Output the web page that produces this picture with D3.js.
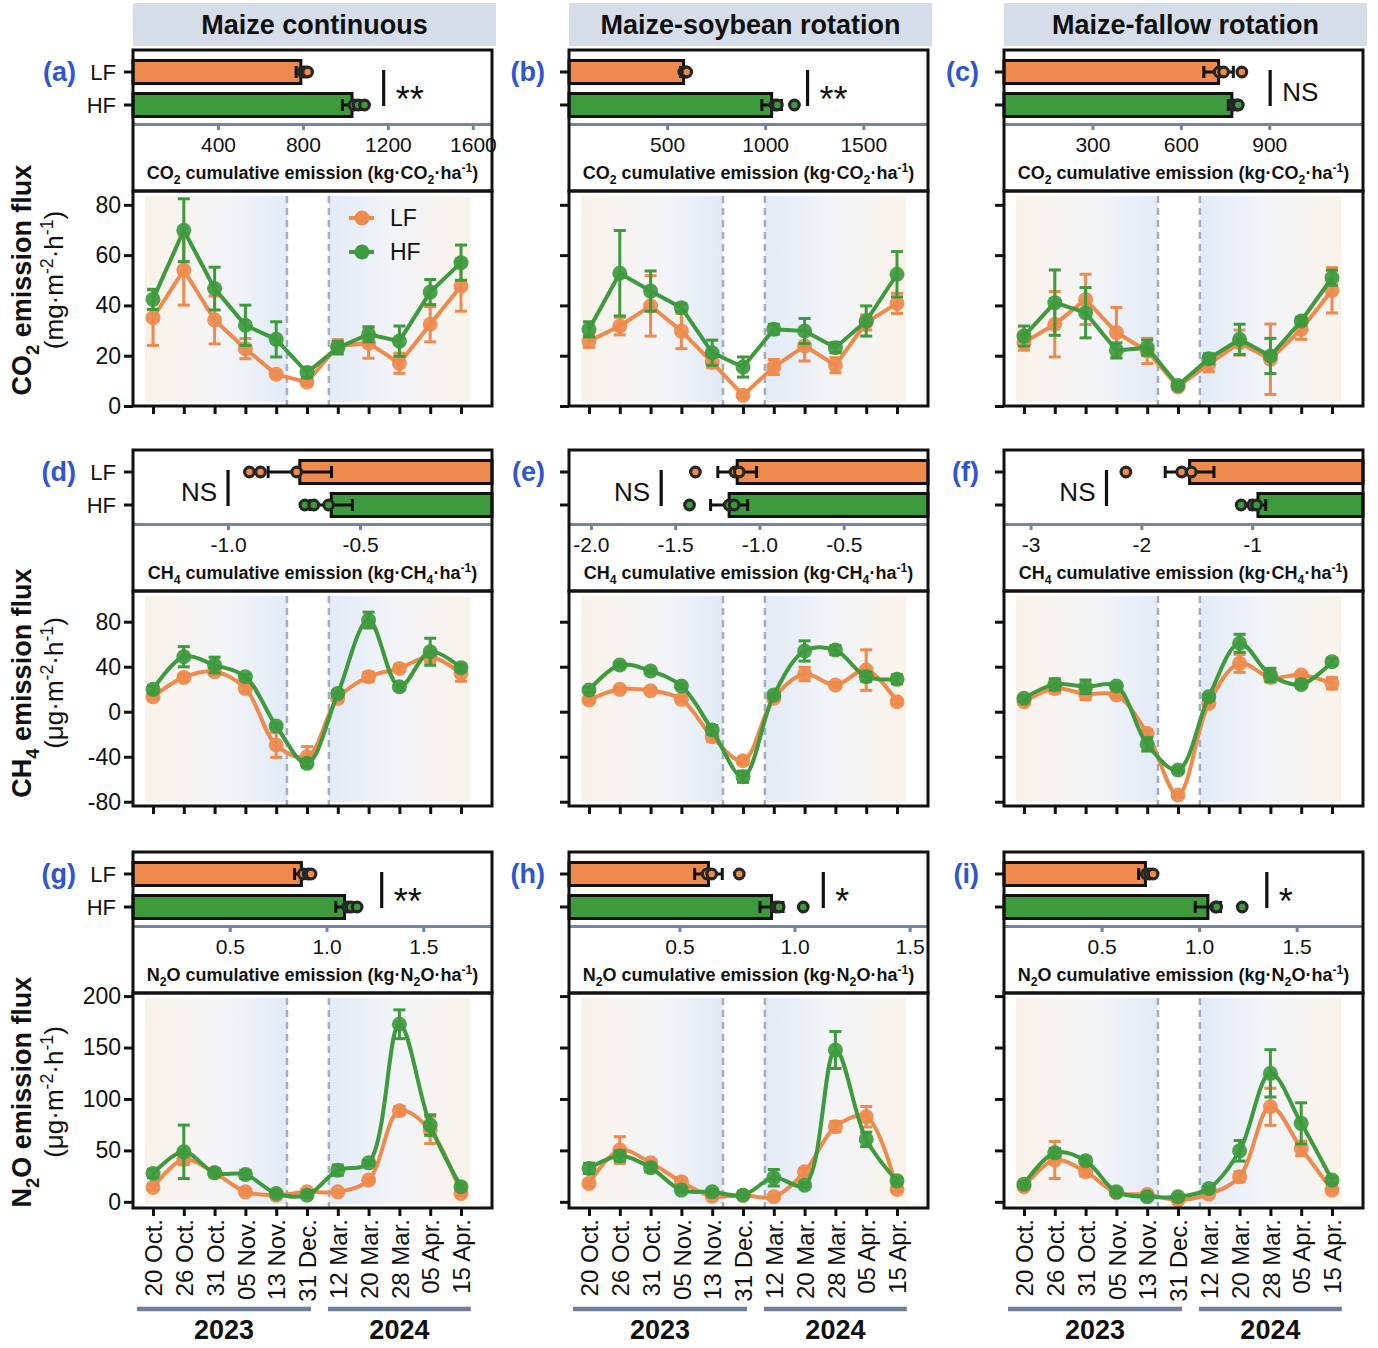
<!DOCTYPE html>
<html>
<head>
<meta charset="utf-8">
<script src="https://cdn.jsdelivr.net/npm/d3@7"></script>
<style>
  body { margin: 0; background: #fff; }
  svg { font-family: "Liberation Sans", Arial, sans-serif; }
</style>
</head>
<body>
<div class="fig"></div>
<script>
const FONT = '"Liberation Sans", Arial, sans-serif';

const systems = ['Maize continuous', 'Maize-soybean rotation', 'Maize-fallow rotation'];
const treatments = ['LF', 'HF'];
const dates = ['20 Oct.', '26 Oct.', '31 Oct.', '05 Nov.', '13 Nov.', '31 Dec.',
               '12 Mar.', '20 Mar.', '28 Mar.', '05 Apr.', '15 Apr.'];
const years = ['2023', '2024'];

// emission fluxes, one row per system (continuous, soybean, fallow)
const co2LF   = [[35.1, 54.1, 34.2, 22.8, 12.6, 9.5, 23.9, 25.0, 17.0, 32.5, 47.7],
                 [25.8, 31.8, 39.8, 29.8, 17.3, 4.3, 15.5, 23.9, 16.2, 33.2, 40.8],
                 [25.2, 32.5, 42.4, 29.2, 21.9, 7.6, 16.6, 25.2, 18.6, 30.5, 46.0]];
const co2LFse = [[11, 14, 9.5, 4, 1, 1, 2.5, 6, 4, 7, 10],
                 [2.5, 3.5, 12, 7, 2, 1, 3, 6, 3, 3, 4],
                 [3, 13, 10, 10, 5, 1, 3, 5, 14, 4, 9]];
const co2HF   = [[42.4, 69.9, 46.7, 32.1, 26.5, 13.3, 23.2, 28.5, 25.8, 45.3, 57.0],
                 [30.5, 52.8, 45.7, 39.1, 21.2, 15.5, 30.5, 29.8, 23.2, 33.8, 52.4],
                 [27.8, 41.1, 37.1, 22.1, 23.2, 8.2, 18.8, 26.5, 19.9, 33.8, 51.0]];
const co2HFse = [[4, 12.5, 8.5, 8, 7, 2, 2.5, 3, 6, 5, 7],
                 [3, 17, 8, 1.5, 5, 4, 2, 5, 2, 6, 9],
                 [4, 13, 10, 3, 3, 1, 2, 6, 7, 1.5, 3]];

const ch4LF   = [[13.3, 30.5, 35.6, 20.7, -29.6, -40.0, 11.9, 31.1, 38.5, 48.9, 34.1],
                 [10.4, 19.9, 18.7, 11.0, -22.2, -43.6, 11.9, 33.5, 23.7, 37.0, 8.9],
                 [8.9, 20.7, 15.7, 14.8, -19.3, -74.0, 7.4, 43.0, 30.5, 32.6, 25.2]];
const ch4LFse = [[2, 3, 3, 3, 11, 9, 3, 4, 3, 5, 7],
                 [2, 2, 2, 2, 4, 3, 2, 6, 2, 18, 2],
                 [2, 4, 5, 2, 3, 2, 2, 8, 3, 2, 5]];
const ch4HF   = [[19.9, 48.9, 41.5, 31.1, -12.7, -45.9, 16.3, 81.5, 22.2, 53.3, 39.1],
                 [19.3, 41.5, 36.2, 22.8, -16.3, -57.8, 14.8, 54.0, 54.8, 31.1, 28.8],
                 [11.9, 24.3, 22.2, 22.8, -29.0, -51.8, 13.3, 60.8, 32.6, 24.3, 44.4]];
const ch4HFse = [[3, 9, 7, 2, 2, 3, 2, 7, 3, 12, 3],
                 [2, 2, 2, 2, 4, 5, 2, 9, 4, 4, 4],
                 [2, 5, 6, 2, 6, 2, 2, 8, 6, 3, 3]];

const n2oLF   = [[14.0, 41.2, 28.2, 9.7, 6.5, 9.7, 9.7, 21.1, 88.5, 69.7, 8.1],
                 [17.9, 50.3, 37.9, 19.5, 5.5, 6.5, 4.9, 29.2, 73.0, 82.7, 12.1],
                 [14.6, 40.6, 29.2, 8.8, 7.2, 1.7, 7.5, 24.3, 92.4, 51.9, 11.4]];
const n2oLFse = [[3, 5, 3, 2, 1, 1, 1, 2, 4, 13, 2],
                 [3, 13, 3, 3, 1, 1, 1, 3, 5, 10, 2],
                 [2, 18, 4, 1, 1, 1, 1, 5, 18, 7, 2]];
const n2oHF   = [[27.6, 48.6, 28.2, 26.6, 8.1, 6.5, 30.8, 37.9, 172.6, 74.6, 14.6],
                 [32.5, 44.5, 33.1, 11.4, 9.7, 6.5, 23.4, 16.2, 147.6, 60.7, 20.4],
                 [17.2, 47.7, 39.9, 9.7, 4.9, 4.9, 13.0, 49.6, 124.9, 76.3, 21.1]];
const n2oHFse = [[4, 26, 4, 4, 2, 2, 5, 2, 14, 10, 2],
                 [5, 5, 4, 2, 2, 2, 8, 2, 18, 7, 3],
                 [2, 4, 3, 2, 1, 1, 2, 10, 23, 20, 3]];

// cumulative emissions [LF, HF] per system
const co2CumMean = [[790, 1031], [584, 1033], [728, 773]];
const co2CumSe   = [[22, 45], [15, 50], [50, 12]];
const co2CumDots = [[[800, 812, 822], [1040, 1060, 1090]],
                    [[585, 595, 600], [1050, 1062, 1149]],
                    [[730, 745, 807], [780, 790, 795]]];
const ch4CumMean = [[-0.728, -0.609], [-1.132, -1.18], [-1.565, -0.948]];
const ch4CumSe   = [[0.12, 0.08], [0.115, 0.11], [0.22, 0.07]];
const ch4CumDots = [[[-0.919, -0.877, -0.74], [-0.709, -0.675, -0.619]],
                    [[-1.38, -1.145, -1.12], [-1.415, -1.18, -1.15]],
                    [[-2.14, -1.637, -1.55], [-1.10, -0.996, -0.96]]];
const n2oCumMean = [[0.87, 1.093], [0.626, 0.90], [0.725, 1.045]];
const n2oCumSe   = [[0.035, 0.045], [0.06, 0.05], [0.035, 0.065]];
const n2oCumDots = [[[0.88, 0.905, 0.92], [1.11, 1.127, 1.158]],
                    [[0.62, 0.64, 0.76], [0.919, 0.933, 1.038]],
                    [[0.73, 0.747, 0.764], [1.084, 1.09, 1.221]]];
const sig = [['**', '**', 'NS'], ['NS', 'NS', 'NS'], ['**', '*', '*']];

// tick labels
const co2Ticks = [0, 20, 40, 60, 80];
const ch4Ticks = [-80, -40, 0, 40, 80];
const n2oTicks = [0, 50, 100, 150, 200];
const co2CumTicks = [[400, 800, 1200, 1600], [500, 1000, 1500], [300, 600, 900]];
const ch4CumTicks = [[-1.0, -0.5], [-2.0, -1.5, -1.0, -0.5], [-3, -2, -1]];
const n2oCumTicks = [[0.5, 1.0, 1.5], [0.5, 1.0, 1.5], [0.5, 1.0, 1.5]];

const f1 = d => d.toFixed(1), f0 = d => String(d);

// one options object per gas row, built from the arrays above
const rowsCfg = [
  {lf: co2LF, lfSe: co2LFse, hf: co2HF, hfSe: co2HFse, yTicks: co2Ticks, yDomain: [0, 85.5],
   cumMean: co2CumMean, cumSe: co2CumSe, cumDots: co2CumDots, cumTicks: co2CumTicks,
   cumFmt: [f0, f0, f0], barDomain: [[0, 1690], [0, 1830], [0, 1218]], sigX: [1180, 1216, 903],
   curve: d3.curveLinear, titleY: 280,
   title: 'CO{_2} emission flux', unit: '(mg·m{^-2}·h{^-1})',
   cumTitle: 'CO{_2} cumulative emission (kg·CO{_2}·ha{^-1})'},
  {lf: ch4LF, lfSe: ch4LFse, hf: ch4HF, hfSe: ch4HFse, yTicks: ch4Ticks, yDomain: [-83.8, 107.3],
   cumMean: ch4CumMean, cumSe: ch4CumSe, cumDots: ch4CumDots, cumTicks: ch4CumTicks,
   cumFmt: [f1, f1, f0], barDomain: [[-1.36, 0], [-2.13, 0], [-3.24, 0]], sigX: [-1.0, -1.583, -2.315],
   curve: d3.curveCatmullRom, titleY: 683,
   title: 'CH{_4} emission flux', unit: '(μg·m{^-2}·h{^-1})',
   cumTitle: 'CH{_4} cumulative emission (kg·CH{_4}·ha{^-1})'},
  {lf: n2oLF, lfSe: n2oLFse, hf: n2oHF, hfSe: n2oHFse, yTicks: n2oTicks, yDomain: [-6, 203],
   cumMean: n2oCumMean, cumSe: n2oCumSe, cumDots: n2oCumDots, cumTicks: n2oCumTicks,
   cumFmt: [f1, f1, f1], barDomain: [[0, 1.855], [0.02, 1.58], [0, 1.84]], sigX: [1.285, 1.125, 1.347],
   curve: d3.curveCatmullRom, titleY: 1092,
   title: 'N{_2}O emission flux', unit: '(μg·m{^-2}·h{^-1})',
   cumTitle: 'N{_2}O cumulative emission (kg·N{_2}O·ha{^-1})'}
];

const orange = '#EE8A4C', green = '#3D9A3D';
const colours = [orange, green];
const slate = '#7385A2', ink = '#111';
const cols = [133, 569, 1004];
const labelEnd = [76, 545, 979];
const boxW = 359;
const rowTop = [50, 450, 852];
const barH = 141, lineH = 215;

const svg = d3.select('.fig').append('svg')
    .attr('width', 1378)
    .attr('height', 1348);

const defs = svg.append('defs');
function grad(id, stops) {
  const g = defs.append('linearGradient').attr('id', id);
  stops.forEach(s => g.append('stop').attr('offset', s[0]).attr('stop-color', s[1]));
}
grad('gL', [['0%', '#FAF2E9'], ['55%', '#F4F5F8'], ['100%', '#E2EAF6']]);
grad('gR', [['0%', '#E2EAF6'], ['45%', '#F2F4F8'], ['100%', '#FAF3EA']]);

// text with {_sub} and {^sup} parts
function rich(text, str, fs) {
  const parts = str.split(/(\{[_^][^}]*\})/).filter(s => s.length);
  let cur = 0;
  parts.forEach(p => {
    let mode = 0, t = p;
    if (p[0] === '{') { mode = p[1] === '_' ? 1 : 2; t = p.slice(2, -1); }
    const target = mode === 1 ? fs * 0.28 : mode === 2 ? -fs * 0.38 : 0;
    text.append('tspan').attr('dy', target - cur)
        .attr('font-size', mode ? fs * 0.68 : fs).text(t);
    cur = target;
  });
}

// headers
systems.forEach((sys, c) => {
  svg.append('rect').attr('x', cols[c]).attr('y', 3).attr('width', boxW + 4).attr('height', 43)
      .attr('fill', '#D5DEE8');
  svg.append('text').attr('x', cols[c] + boxW / 2 + 2).attr('y', 34)
      .attr('text-anchor', 'middle').attr('font-weight', 'bold').attr('font-size', 27)
      .attr('fill', ink).text(sys);
});

rowsCfg.forEach((g, r) => {
  // y titles
  const t1 = svg.append('text').attr('transform', `translate(31,${g.titleY}) rotate(-90)`)
      .attr('text-anchor', 'middle').attr('font-weight', 'bold').attr('fill', ink);
  rich(t1, g.title, 27);
  const t2 = svg.append('text').attr('transform', `translate(63,${g.titleY}) rotate(-90)`)
      .attr('text-anchor', 'middle').attr('fill', ink);
  rich(t2, g.unit, 26);

  systems.forEach((sys, c) => {
    const L = cols[c], T = rowTop[r], lt = T + barH, lb = lt + lineH;

    // ---------- cumulative bar panel ----------
    const xb = d3.scaleLinear().domain(g.barDomain[c]).range([L, L + boxW]);
    const base = xb.copy().clamp(true)(0);
    const yc = [T + 22, T + 55];
    const pb = svg.append('g');

    pb.selectAll('line.lt').data(yc).enter().append('line')
        .attr('x1', L - 9).attr('x2', L).attr('y1', d => d).attr('y2', d => d)
        .attr('stroke', ink).attr('stroke-width', 3);
    if (c === 0) {
      pb.selectAll('text.tl').data(treatments).enter().append('text')
          .attr('x', L - 17).attr('y', (d, k) => [T + 30, T + 63][k])
          .attr('text-anchor', 'end').attr('font-size', 22).attr('fill', ink).text(d => d);
    }

    pb.selectAll('rect.bar').data(treatments).enter().append('rect')
        .attr('x', (d, k) => Math.min(base, xb(g.cumMean[c][k])))
        .attr('width', (d, k) => Math.abs(xb(g.cumMean[c][k]) - base))
        .attr('y', (d, k) => yc[k] - 11.5).attr('height', 23)
        .attr('fill', (d, k) => colours[k]).attr('stroke', ink).attr('stroke-width', 3);

    treatments.forEach((t, k) => {
      const m = g.cumMean[c][k], s = g.cumSe[c][k], y0 = yc[k];
      pb.append('line').attr('x1', xb(m - s)).attr('x2', xb(m + s)).attr('y1', y0).attr('y2', y0)
          .attr('stroke', ink).attr('stroke-width', 3);
      [m - s, m + s].forEach(v => pb.append('line')
          .attr('x1', xb(v)).attr('x2', xb(v)).attr('y1', y0 - 6).attr('y2', y0 + 6)
          .attr('stroke', ink).attr('stroke-width', 3));
      pb.selectAll(null).data(g.cumDots[c][k]).enter().append('circle')
          .attr('cx', d => xb(d)).attr('cy', y0).attr('r', 4.8)
          .attr('fill', colours[k]).attr('stroke', '#262626').attr('stroke-width', 3.2);
    });

    const ax = svg.append('g').attr('transform', `translate(0,${T + 74})`).attr('font-family', FONT)
        .call(d3.axisBottom(xb).tickValues(g.cumTicks[c]).tickSize(6).tickSizeOuter(0)
          .tickFormat(g.cumFmt[c]));
    ax.select('.domain').attr('stroke', slate).attr('stroke-width', 3);
    ax.selectAll('.tick line').attr('stroke', slate).attr('stroke-width', 3);
    ax.selectAll('.tick text').attr('y', 13).attr('font-size', 21).attr('fill', ink);

    const ct = svg.append('text').attr('x', L + boxW / 2).attr('y', T + 129)
        .attr('text-anchor', 'middle').attr('font-weight', 'bold').attr('fill', ink);
    rich(ct, g.cumTitle, 18);

    // significance
    const sx = xb(g.sigX[c]);
    const neg = g.barDomain[c][1] <= 0;
    const st = sig[r][c];
    svg.append('line').attr('x1', sx).attr('x2', sx).attr('y1', T + 20).attr('y2', T + 56)
        .attr('stroke', ink).attr('stroke-width', 3.2);
    svg.append('text').attr('x', neg ? sx - 11 : sx + 12)
        .attr('y', T + 38.5 + (st === 'NS' ? 12 : 23))
        .attr('text-anchor', neg ? 'end' : 'start')
        .attr('font-size', st === 'NS' ? 26 : 36).attr('fill', ink).text(st);

    svg.append('rect').attr('x', L).attr('y', T).attr('width', boxW).attr('height', barH)
        .attr('fill', 'none').attr('stroke', ink).attr('stroke-width', 3);

    svg.append('text').attr('x', labelEnd[c]).attr('y', T + 31)
        .attr('text-anchor', 'end').attr('font-weight', 'bold').attr('font-size', 27)
        .attr('fill', '#2D55D6').text('(' + 'abcdefghi'[r * 3 + c] + ')');

    // ---------- flux line panel ----------
    const x = d3.scalePoint().domain(dates).range([L + 20, L + 328]);
    const xi = i => x(dates[0]) + i * x.step();
    const y = d3.scaleLinear().domain(g.yDomain).range([lb, lt]);

    svg.append('rect').attr('x', xi(-0.26)).attr('width', xi(4.35) - xi(-0.26))
        .attr('y', lt + 5).attr('height', lineH - 9).attr('fill', 'url(#gL)');
    svg.append('rect').attr('x', xi(5.71)).attr('width', xi(10.3) - xi(5.71))
        .attr('y', lt + 5).attr('height', lineH - 9).attr('fill', 'url(#gR)');
    [4.35, 5.71].forEach(v => svg.append('line')
        .attr('x1', xi(v)).attr('x2', xi(v)).attr('y1', lt + 5).attr('y2', lb)
        .attr('stroke', '#A2AEBF').attr('stroke-width', 2.5).attr('stroke-dasharray', '7,5'));

    const series = [{m: g.lf[c], s: g.lfSe[c], col: orange}, {m: g.hf[c], s: g.hfSe[c], col: green}];
    series.forEach(sr => {
      const gs = svg.append('g');
      gs.append('path').datum(sr.m)
          .attr('d', d3.line().x((d, i) => x(dates[i])).y(d => y(d)).curve(g.curve))
          .attr('fill', 'none').attr('stroke', sr.col).attr('stroke-width', 4);
      sr.m.forEach((v, i) => {
        const cx = x(dates[i]), e = sr.s[i];
        gs.append('line').attr('x1', cx).attr('x2', cx).attr('y1', y(v - e)).attr('y2', y(v + e))
            .attr('stroke', sr.col).attr('stroke-width', 3);
        [v - e, v + e].forEach(w => gs.append('line')
            .attr('x1', cx - 6).attr('x2', cx + 6).attr('y1', y(w)).attr('y2', y(w))
            .attr('stroke', sr.col).attr('stroke-width', 3));
      });
      gs.selectAll('circle').data(sr.m).enter().append('circle')
          .attr('cx', (d, i) => x(dates[i])).attr('cy', d => y(d)).attr('r', 7.5)
          .attr('fill', sr.col).attr('fill-opacity', 0.92);
    });

    const ya = svg.append('g').attr('transform', `translate(${L},0)`).attr('font-family', FONT)
        .call(d3.axisLeft(y).tickValues(g.yTicks).tickSize(9)
          .tickFormat(c === 0 ? d => String(d) : () => ''));
    ya.select('.domain').remove();
    ya.selectAll('.tick line').attr('stroke', ink).attr('stroke-width', 3);
    ya.selectAll('.tick text').attr('font-size', 23).attr('fill', ink);

    const xa = svg.append('g').attr('transform', `translate(0,${lb})`).attr('font-family', FONT)
        .call(d3.axisBottom(x).tickSize(8).tickFormat(r === 2 ? d => d : () => ''));
    xa.select('.domain').remove();
    xa.selectAll('.tick line').attr('stroke', ink).attr('stroke-width', 3);
    if (r === 2) {
      xa.selectAll('.tick text').attr('transform', 'rotate(-90)').attr('x', -11).attr('y', 0)
          .attr('dy', '0.36em').attr('text-anchor', 'end').attr('font-size', 24).attr('fill', ink);
      const spans = [[-0.52, 5.13], [5.68, 10.32]];
      years.forEach((yr, k) => {
        const a = xi(spans[k][0]), b = xi(spans[k][1]);
        svg.append('line').attr('x1', a).attr('x2', b).attr('y1', 1309).attr('y2', 1309)
            .attr('stroke', '#6E7F9C').attr('stroke-width', 4.5);
        svg.append('text').attr('x', (a + b) / 2).attr('y', 1339).attr('text-anchor', 'middle')
            .attr('font-weight', 'bold').attr('font-size', 27).attr('fill', ink).text(yr);
      });
    }

    svg.append('rect').attr('x', L).attr('y', lt).attr('width', boxW).attr('height', lineH)
        .attr('fill', 'none').attr('stroke', ink).attr('stroke-width', 3);

    if (r === 0 && c === 0) {
      treatments.forEach((t, k) => {
        const ly = lt + 27 + 34 * k;
        svg.append('line').attr('x1', L + 216).attr('x2', L + 241).attr('y1', ly).attr('y2', ly)
            .attr('stroke', colours[k]).attr('stroke-width', 4);
        svg.append('circle').attr('cx', L + 229).attr('cy', ly).attr('r', 7.5).attr('fill', colours[k]);
        svg.append('text').attr('x', L + 257).attr('y', ly + 8).attr('font-size', 23)
            .attr('fill', ink).text(t);
      });
    }
  });
});
</script>
</body>
</html>
